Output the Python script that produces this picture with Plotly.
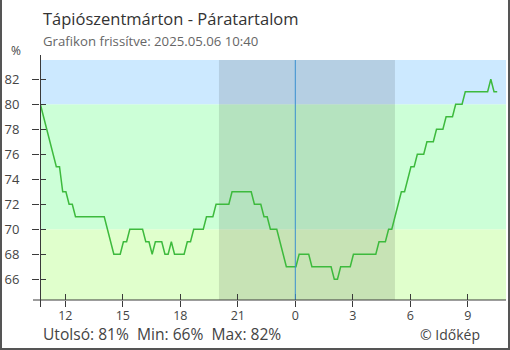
import pandas as pd
import plotly.graph_objects as go

# Relative humidity (%) at 10-minute intervals, Tápiószentmárton
start_time = "2025-05-05 10:42"
step = "10min"
humidity = [
    80, 79, 78, 77, 76, 75, 75, 73, 73, 72, 72,
    71, 71, 71, 71, 71, 71, 71, 71, 71, 71,
    70, 69, 68, 68, 68, 69, 69, 70, 70, 70, 70, 70,
    69, 69, 68, 69, 69, 69, 68, 68, 69, 68, 68, 68, 68,
    69, 69, 70, 70, 70, 70, 71, 71, 71,
    72, 72, 72, 72, 72, 73, 73, 73, 73, 73, 73, 73,
    72, 72, 72, 71, 71, 70, 70, 70, 69, 68,
    67, 67, 67, 67, 68, 68, 68, 68,
    67, 67, 67, 67, 67, 67, 67, 66, 66, 67, 67, 67, 67,
    68, 68, 68, 68, 68, 68, 68, 68, 69, 69, 69, 70, 70,
    71, 72, 73, 73, 74, 75, 75, 76, 76, 76, 77, 77, 77,
    78, 78, 78, 79, 79, 79, 80, 80, 80,
    81, 81, 81, 81, 81, 81, 81, 81, 82, 81, 81,
]
times = pd.date_range(start_time, periods=len(humidity), freq=step)

# Axis settings
x_range = ["2025-05-05 10:40:55", "2025-05-06 10:59:30"]
y_range = [64.34, 83.54]
x_tick_vals = ["2025-05-05 12:00", "2025-05-05 15:00", "2025-05-05 18:00",
               "2025-05-05 21:00", "2025-05-06 00:00", "2025-05-06 03:00",
               "2025-05-06 06:00", "2025-05-06 09:00"]
x_tick_text = ["12", "15", "18", "21", "0", "3", "6", "9"]
y_tick_vals = [66, 68, 70, 72, 74, 76, 78, 80, 82]

# Background humidity bands
bands = [(y_range[0], 70, "#e0ffcc"), (70, 80, "#ccffd7"), (80, y_range[1], "#cce9ff")]
night = ("2025-05-05 20:01", "2025-05-06 05:12")
midnight = "2025-05-06 00:00"

title = "Tápiószentmárton - Páratartalom"
subtitle = "Grafikon frissítve: 2025.05.06 10:40"
summary = "Utolsó: 81%  Min: 66%  Max: 82%"
credit = "© Időkép"

W, H = 510, 350
L, R, T, B = 40, 4, 60, 50
PW, PH = W - L - R, H - T - B


def px(x):
    return (x - L) / PW


def py(y):
    return (H - B - y) / PH


FONT = "Open Sans"
AX = "#3a3a3a"
TXT = "#444444"

fig = go.Figure()
fig.add_trace(go.Scatter(
    x=times, y=humidity, mode="lines",
    line=dict(color="#3dba3d", width=1.5, shape="linear"),
    hoverinfo="skip", showlegend=False,
))
# empty trace so the overlaid tick axes render
fig.add_trace(go.Scatter(x=[], y=[], xaxis="x2", yaxis="y2", showlegend=False))

shapes = []
for y0, y1, c in bands:
    shapes.append(dict(type="rect", xref="paper", yref="y", x0=0, x1=1, y0=y0, y1=y1,
                       fillcolor=c, line_width=0, layer="below"))
shapes.append(dict(type="rect", xref="x", yref="paper", x0=night[0], x1=night[1], y0=0, y1=1,
                   fillcolor="rgba(0,0,0,0.11)", line_width=0, layer="below"))
shapes.append(dict(type="line", xref="x", yref="paper", x0=midnight, x1=midnight, y0=0, y1=1,
                   line=dict(color="#3a8fd0", width=1), layer="above"))
# axis lines, slightly overshooting the corner
shapes.append(dict(type="line", xref="paper", yref="paper", x0=px(33), x1=1, y0=0, y1=0,
                   line=dict(color=AX, width=1)))
shapes.append(dict(type="line", xref="paper", yref="paper", x0=px(40.5), x1=px(40.5),
                   y0=py(307), y1=py(55), line=dict(color=AX, width=1)))
# outer frame
shapes.append(dict(type="line", xref="paper", yref="paper", x0=px(1), x1=px(1),
                   y0=py(0), y1=py(350), line=dict(color="#555555", width=2)))
shapes.append(dict(type="line", xref="paper", yref="paper", x0=px(509), x1=px(509),
                   y0=py(0), y1=py(350), line=dict(color="#555555", width=2)))
shapes.append(dict(type="line", xref="paper", yref="paper", x0=px(0), x1=px(510),
                   y0=py(349), y1=py(349), line=dict(color="#555555", width=2)))

annotations = [
    dict(text=title, x=px(41), y=py(19), xanchor="left", yanchor="middle",
         font=dict(size=16.5, color="#333333", family=FONT)),
    dict(text=subtitle, x=px(41), y=py(41), xanchor="left", yanchor="middle",
         font=dict(size=13.2, color="#666666", family=FONT)),
    dict(text="%", x=px(16), y=py(51), xanchor="center", yanchor="middle",
         font=dict(size=12, color=TXT, family=FONT)),
    dict(text=summary, x=px(41), y=py(334), xanchor="left", yanchor="middle",
         font=dict(size=15.6, color=TXT, family=FONT)),
    dict(text=credit, x=px(482), y=py(334), xanchor="right", yanchor="middle",
         font=dict(size=14, color=TXT, family=FONT)),
]
for a in annotations:
    a.update(xref="paper", yref="paper", showarrow=False)

fig.update_layout(
    width=W, height=H,
    margin=dict(l=L, r=R, t=T, b=B, pad=0),
    paper_bgcolor="white", plot_bgcolor="rgba(0,0,0,0)",
    font=dict(family=FONT, color=TXT),
    shapes=shapes, annotations=annotations,
    xaxis=dict(type="date", range=x_range, tickvals=x_tick_vals, ticktext=x_tick_text,
               ticks="outside", ticklen=6, tickcolor=AX, tickwidth=1,
               ticklabelstandoff=-2,
               showgrid=False, zeroline=False, showline=False,
               tickfont=dict(size=12.5, color=TXT, family=FONT), fixedrange=True),
    yaxis=dict(range=y_range, tickvals=y_tick_vals, ticks="outside", ticklen=7,
               tickcolor=AX, tickwidth=1, showgrid=False, zeroline=False, showline=False,
               ticklabelstandoff=10,
               tickfont=dict(size=13, color=TXT, family=FONT), fixedrange=True),
    xaxis2=dict(type="date", range=x_range, tickvals=x_tick_vals, overlaying="x",
                side="bottom", ticks="inside", ticklen=6, tickcolor=AX, tickwidth=1,
                showticklabels=False, showgrid=False, zeroline=False, showline=False,
                fixedrange=True),
    yaxis2=dict(range=y_range, tickvals=y_tick_vals, overlaying="y", side="left",
                ticks="inside", ticklen=6, tickcolor=AX, tickwidth=1,
                showticklabels=False, showgrid=False, zeroline=False, showline=False,
                fixedrange=True),
)

fig.write_html("out.html")
